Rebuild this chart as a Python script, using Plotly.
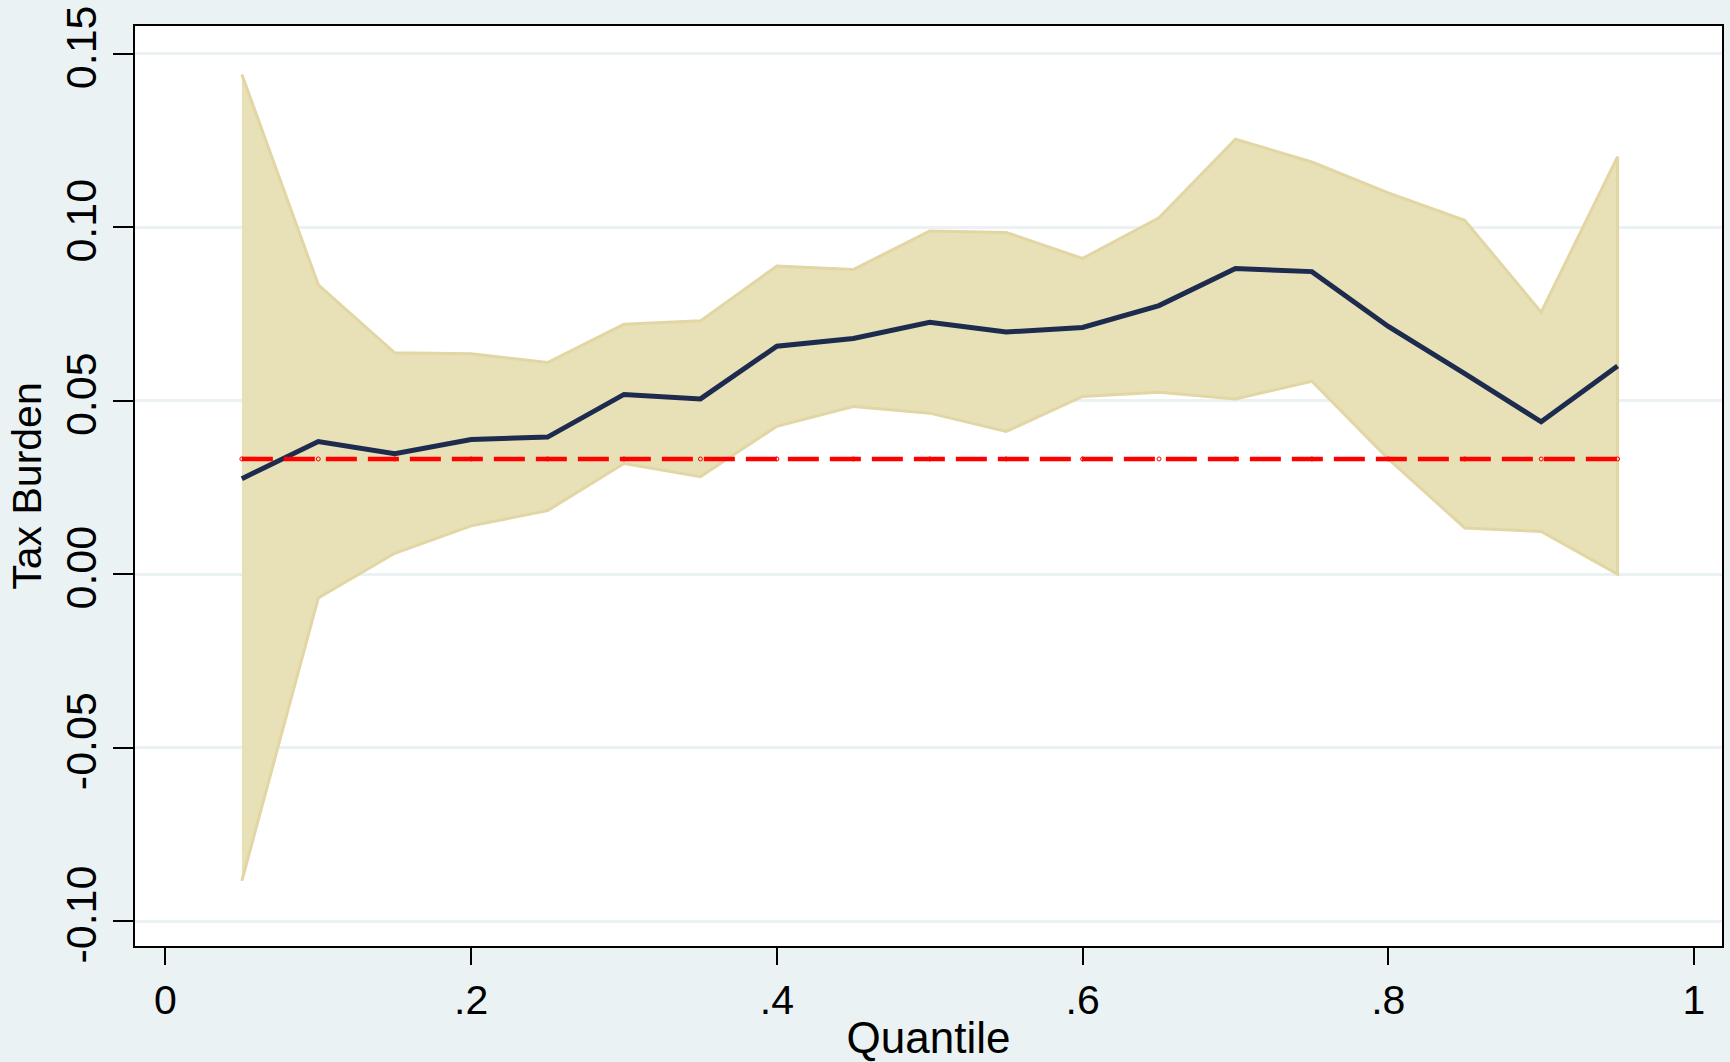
import plotly.graph_objects as go

quantile = [0.05, 0.10, 0.15, 0.20, 0.25, 0.30, 0.35, 0.40, 0.45, 0.50,
            0.55, 0.60, 0.65, 0.70, 0.75, 0.80, 0.85, 0.90, 0.95]
coef = [0.0275, 0.0382, 0.0347, 0.0388, 0.0395, 0.0518, 0.0505, 0.0657, 0.0679, 0.0726,
        0.0698, 0.0711, 0.0774, 0.0881, 0.0872, 0.0714, 0.0578, 0.0439, 0.0600]
upper = [0.1440, 0.0834, 0.0638, 0.0635, 0.0610, 0.0720, 0.0730, 0.0888, 0.0878, 0.0989,
         0.0985, 0.0910, 0.1027, 0.1254, 0.1188, 0.1099, 0.1020, 0.0755, 0.1203]
lower = [-0.0884, -0.0069, 0.0060, 0.0139, 0.0183, 0.0319, 0.0281, 0.0426, 0.0483, 0.0464,
         0.0411, 0.0512, 0.0524, 0.0505, 0.0556, 0.0332, 0.0133, 0.0123, 0.0000]
ols = [0.0332] * len(quantile)

x_ticks = [0, 0.2, 0.4, 0.6, 0.8, 1]
x_tick_text = ["0", ".2", ".4", ".6", ".8", "1"]
y_ticks = [-0.10, -0.05, 0.00, 0.05, 0.10, 0.15]
y_tick_text = ["-0.10", "-0.05", "0.00", "0.05", "0.10", "0.15"]

BAND_FILL = "#E8E0B6"
BAND_LINE = "#E2D6A4"
NAVY = "#1C2B4E"
RED = "#FF0000"
BG = "#EAF2F3"

fig = go.Figure()
fig.add_trace(go.Scatter(
    x=quantile + quantile[::-1],
    y=upper + lower[::-1],
    fill="toself", fillcolor=BAND_FILL,
    line=dict(color=BAND_LINE, width=3),
    mode="lines", showlegend=False, hoverinfo="skip"))
fig.add_trace(go.Scatter(
    x=quantile, y=coef, mode="lines",
    line=dict(color=NAVY, width=5), showlegend=False))
fig.add_trace(go.Scatter(
    x=quantile, y=ols, mode="lines+markers",
    line=dict(color=RED, width=4.5, dash="31px,11px"),
    marker=dict(symbol="circle-open", size=4, color=RED, line=dict(width=1)),
    showlegend=False))

font = "Liberation Sans, Arial, sans-serif"
fig.update_layout(
    width=1730, height=1062,
    margin=dict(l=135, r=6, t=24, b=111),
    paper_bgcolor=BG, plot_bgcolor="white",
    font=dict(family=font, color="black"),
    xaxis=dict(
        range=[-0.0199, 1.0183], tickvals=x_ticks, ticktext=x_tick_text,
        tickfont=dict(size=41), ticks="outside", ticklen=17, tickwidth=2, tickcolor="black",
        showgrid=False, zeroline=False,
        showline=True, linecolor="black", linewidth=2, mirror=True,
        title=dict(text="Quantile", font=dict(size=44), standoff=2)),
    yaxis=dict(
        range=[-0.1072, 0.158], tickvals=y_ticks, ticktext=y_tick_text,
        tickfont=dict(size=43), tickangle=-90,
        ticks="outside", ticklen=20, tickwidth=2, tickcolor="black",
        showgrid=True, gridcolor=BG, gridwidth=3, zeroline=False,
        showline=True, linecolor="black", linewidth=2, mirror=True,
        title=dict(text="Tax Burden", font=dict(size=41), standoff=2)),
)

fig.write_html(
    "out.html",
    config={"displayModeBar": False},
    post_script="document.body.style.margin='0';document.body.style.background='#EAF2F3';",
)
